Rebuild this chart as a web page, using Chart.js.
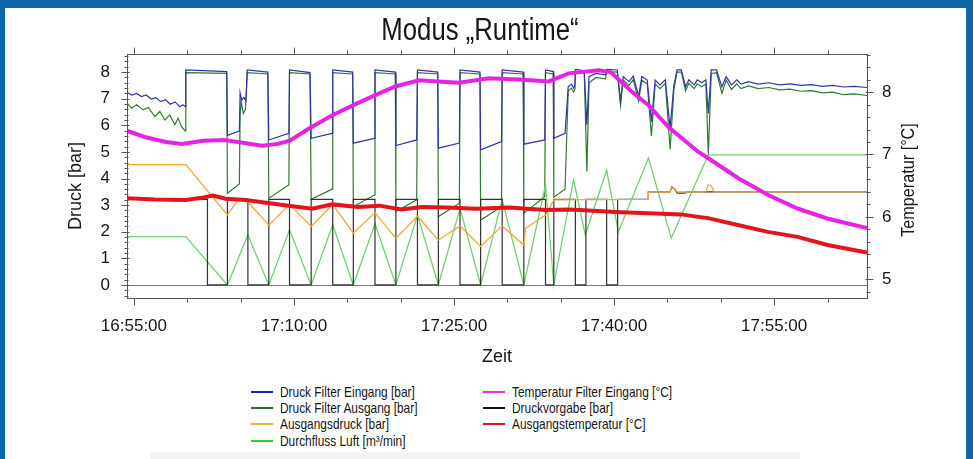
<!DOCTYPE html>
<html lang="de">
<head>
<meta charset="utf-8">
<title>Modus „Runtime“</title>
<script src="https://cdn.jsdelivr.net/npm/chart.js@4.4.1/dist/chart.umd.min.js"></script>
<style>
  html, body { margin: 0; padding: 0; }
  body {
    width: 973px; height: 459px; position: relative; overflow: hidden;
    background: #0f67a9;
    font-family: 'Liberation Sans', Arial, sans-serif;
    color: #161616;
  }
  #panel { position: absolute; left: 5px; top: 8px; width: 961px; height: 451px; background: #fff; }
  #strip { position: absolute; left: 150px; top: 452px; width: 650px; height: 7px; background: #f3f3f3; }
  #chart { position: absolute; left: 0; top: 0; }
  #title {
    position: absolute; left: 0; top: 14px; width: 960px; text-align: center;
    font-size: 31px; line-height: 32px; transform: scaleX(0.83); transform-origin: 480px 0;
  }
  .leg { position: absolute; height: 16px; white-space: nowrap; }
  .leg i { position: absolute; left: 0; top: 7px; width: 22px; height: 2px; }
  .leg span {
    position: absolute; left: 29px; top: 0; font-size: 14.5px; line-height: 16px;
    transform: scaleX(0.82); transform-origin: 0 0;
  }
</style>
</head>
<body>
<div id="panel"></div>
<div id="strip"></div>
<canvas id="chart" width="973" height="380"></canvas>
<div id="title">Modus „Runtime“</div>

<div class="leg" style="left:251px; top:384px;"><i style="background:#2323b4"></i><span>Druck Filter Eingang [bar]</span></div>
<div class="leg" style="left:251px; top:400px;"><i style="background:#2e6e2e"></i><span>Druck Filter Ausgang [bar]</span></div>
<div class="leg" style="left:251px; top:416px;"><i style="background:#f2ac3c"></i><span>Ausgangsdruck [bar]</span></div>
<div class="leg" style="left:251px; top:433px;"><i style="background:#3dcc3d"></i><span>Durchfluss Luft [m³/min]</span></div>
<div class="leg" style="left:483px; top:384px;"><i style="background:#e629e6"></i><span>Temperatur Filter Eingang [°C]</span></div>
<div class="leg" style="left:483px; top:400px;"><i style="background:#111"></i><span>Druckvorgabe [bar]</span></div>
<div class="leg" style="left:483px; top:416px;"><i style="background:#e0141e"></i><span>Ausgangstemperatur [°C]</span></div>

<script>
// time axis: minutes after 16:55:00
const timeMin = -0.65;
const timeMax = 68.7;

// Druck Filter Eingang [bar]  -> [minute, bar]
const druckEingang = [
  [-0.65,7.24],[-0.2,7.14],[0.25,7.2],[0.7,7.08],[1.15,7.14],[1.6,6.99],[2.05,7.04],[2.5,6.89],
  [2.95,6.96],[3.4,6.79],[3.85,6.88],[4.3,6.7],[4.6,6.77],[4.82,6.7],
  [4.86,8.08],[8.7,8.02],
  [8.76,5.62],[9.88,5.78],[9.95,7.22],[10.1,6.95],[10.3,7.05],[10.5,6.92],[10.62,8.08],[12.55,8.0],
  [12.64,5.45],[14.52,5.7],[14.58,8.08],[16.5,7.98],
  [16.61,5.51],[18.57,5.7],[18.63,8.08],[20.5,8.0],
  [20.56,5.33],[22.53,5.51],[22.59,8.08],[24.5,8.0],
  [24.55,5.24],[26.5,5.45],[26.57,8.08],[28.47,8.0],
  [28.53,5.14],[30.5,5.33],[30.56,8.08],[32.43,8.0],
  [32.49,5.08],[34.45,5.39],[34.51,8.08],[36.48,8.0],
  [36.54,5.29],[38.5,5.45],[38.57,8.08],[39.3,8.02],
  [39.35,5.51],[40.4,5.7],[40.7,7.45],[41.0,7.55],[41.2,7.4],[41.33,7.5],[41.37,8.1],[42.2,8.05],
  [42.45,6.02],[42.65,7.83],[43.3,7.95],[44.2,7.9],[44.3,8.1],[45.3,8.08],
  [45.6,6.9],[45.85,7.83],[46.4,7.64],[46.8,7.85],[47.3,7.1],[47.6,7.83],[48.1,7.7],[48.5,6.14],
  [48.85,7.7],[49.3,7.52],[49.8,7.71],[50.25,5.9],[50.6,7.5],[50.9,8.08],[51.3,8.08],[51.7,7.45],
  [52.0,7.71],[52.5,7.52],[52.8,7.71],[53.2,7.6],[53.6,7.71],[53.83,6.45],[54.1,8.08],[54.6,8.08],
  [55.1,7.45],[55.5,7.83],[56.0,7.52],[56.5,7.71],[56.9,7.55],[57.6,7.64],[58.5,7.55],[59.5,7.6],
  [60.5,7.52],[61.5,7.56],[62.5,7.5],[63.5,7.53],[64.5,7.46],[65.5,7.5],[66.5,7.44],[67.5,7.46],[68.7,7.42]
];

// Druck Filter Ausgang [bar]
const druckAusgang = [
  [-0.65,6.83],[-0.22,6.64],[0.25,6.77],[0.87,6.58],[1.34,6.67],[1.96,6.33],[2.43,6.52],[2.9,6.2],
  [3.36,6.39],[3.83,6.02],[4.14,6.27],[4.46,5.95],[4.8,5.79],
  [4.86,7.98],[8.7,7.95],
  [8.76,3.45],[9.88,3.8],[9.95,6.4],[10.05,6.9],[10.25,6.45],[10.45,6.6],[10.62,7.98],[12.55,7.93],
  [12.64,3.26],[14.52,3.76],[14.58,7.98],[16.5,7.93],
  [16.61,3.22],[18.57,3.6],[18.63,7.98],[20.5,7.93],
  [20.56,2.94],[22.53,3.38],[22.59,7.98],[24.5,7.93],
  [24.55,2.76],[26.5,3.2],[26.57,7.98],[28.47,7.93],
  [28.53,2.57],[30.5,3.07],[30.56,7.98],[32.43,7.93],
  [32.49,2.44],[34.45,2.94],[34.51,7.98],[36.48,7.93],
  [36.54,2.7],[38.5,3.32],[38.57,7.98],[39.3,7.93],
  [39.35,3.3],[40.4,3.6],[40.7,7.3],[41.0,7.4],[41.2,7.25],[41.33,7.35],[41.37,8.02],[42.2,7.98],
  [42.45,4.26],[42.65,7.6],[43.3,7.8],[44.2,7.75],[44.3,8.02],[45.3,8.0],
  [45.6,6.75],[45.85,7.7],[46.4,7.5],[46.8,7.72],[47.3,6.9],[47.6,7.7],[48.1,7.55],[48.5,5.6],
  [48.85,7.55],[49.3,7.38],[49.8,7.58],[50.25,5.1],[50.6,7.35],[50.9,8.0],[51.3,8.0],[51.7,7.3],
  [52.0,7.58],[52.5,7.38],[52.8,7.56],[53.2,7.45],[53.6,7.55],[53.83,4.89],[54.1,7.95],[54.6,7.98],
  [55.1,7.2],[55.5,7.7],[56.0,7.35],[56.5,7.56],[56.9,7.38],[57.6,7.48],[58.5,7.38],[59.5,7.42],
  [60.5,7.33],[61.5,7.36],[62.5,7.28],[63.5,7.3],[64.5,7.22],[65.5,7.25],[66.5,7.15],[67.5,7.18],[68.7,7.12]
];

// Ausgangsdruck [bar]
const ausgangsdruck = [
  [-0.65,4.52],[4.86,4.52],[8.76,2.63],[9.8,3.22],[10.68,3.12],[12.64,2.25],[14.58,3.02],[16.61,2.2],
  [18.63,3.02],[20.56,1.95],[22.59,2.72],[24.55,1.75],[26.57,2.58],[28.53,1.68],[30.56,2.22],
  [32.49,1.45],[34.51,2.22],[36.54,1.5],[36.7,2.13],[38.57,2.63],[39.35,3.2],[48.2,3.22],[48.22,3.5],
  [50.25,3.5],[50.4,3.65],[50.7,3.62],[50.9,3.5],[53.6,3.5],[53.8,3.76],[54.1,3.72],[54.4,3.5],[68.7,3.5]
];

// Durchfluss Luft [m³/min]
const durchfluss = [
  [-0.65,1.82],[4.86,1.82],[8.76,0],[10.68,1.88],[12.64,0],[14.58,2.07],[16.61,0],[18.63,2.26],
  [20.56,0],[22.59,2.3],[24.55,0],[26.57,2.63],[28.53,0],[30.56,2.88],[32.49,0],[34.51,3.2],
  [36.54,0],[38.57,3.76],[39.35,0],[41.2,3.95],[42.3,1.88],[44.3,4.32],[45.4,2.0],[48.22,4.77],
  [50.35,1.76],[53.83,4.89],[68.7,4.89]
];

// Druckvorgabe [bar]
const druckvorgabe = [
  [-0.65,3.22],[6.89,3.22],[6.89,0],[8.76,0],[8.76,3.22],[10.68,3.22],[10.68,0],[12.64,0],
  [12.64,3.22],[14.58,3.22],[14.58,0],[16.61,0],[16.61,3.22],[18.63,3.22],[18.63,0],[20.56,0],
  [20.56,3.22],[22.59,3.22],[22.59,0],[24.55,0],[24.55,3.22],[26.57,3.22],[26.57,0],[28.53,0],
  [28.53,3.22],[30.56,3.22],[30.56,0],[32.49,0],[32.49,3.22],[34.51,3.22],[34.51,0],[36.54,0],
  [36.54,3.22],[38.57,3.22],[38.57,0],[39.35,0],[39.35,3.22],[41.37,3.22],[41.37,0],[42.36,0],
  [42.36,3.22],[44.3,3.22],[44.3,0],[45.33,0],[45.33,3.22],[48.2,3.22],[48.2,3.5],[50.25,3.5],
  [50.4,3.68],[50.7,3.6],[50.9,3.45],[51.6,3.45],[51.8,3.5],[68.7,3.5]
];

// Temperatur Filter Eingang [°C]
const tempEingang = [
  [-0.65,7.38],[1.0,7.28],[3.0,7.2],[4.5,7.17],[6.5,7.22],[8.5,7.23],[10.5,7.18],[12.0,7.14],
  [13.5,7.17],[14.6,7.22],[16.45,7.42],[18.6,7.63],[20.56,7.79],[22.62,7.95],[24.49,8.09],
  [26.73,8.19],[28.5,8.17],[30.47,8.15],[33.27,8.22],[36.07,8.2],[38.88,8.17],[40.75,8.3],
  [43.55,8.35],[44.67,8.32],[46.64,8.01],[48.22,7.79],[50.09,7.44],[52.9,7.04],[53.83,6.94],
  [56.64,6.62],[59.44,6.35],[62.24,6.13],[65.05,5.97],[68.7,5.82]
];

// Ausgangstemperatur [°C]
const tempAusgang = [
  [-0.65,6.3],[2.0,6.28],[4.86,6.27],[6.5,6.31],[7.4,6.34],[8.6,6.29],[10.5,6.27],[13.6,6.2],
  [16.7,6.13],[18.6,6.2],[21.0,6.16],[23.0,6.18],[25.1,6.12],[27.0,6.16],[29.3,6.15],[32.1,6.13],
  [35.2,6.15],[38.6,6.11],[40.9,6.12],[45.1,6.08],[48.2,6.06],[51.3,6.04],[52.9,6.0],[53.8,5.98],
  [56.6,5.87],[59.4,5.76],[62.2,5.68],[65.0,5.55],[68.7,5.43]
];

const FONT = "'Liberation Sans', Arial, sans-serif";

const toXY = arr => arr.map(([x, y]) => ({ x, y }));

function line(label, data, color, width, axis, order) {
  return {
    label, data: toXY(data), yAxisID: axis, order,
    borderColor: color, borderWidth: width, pointRadius: 0, tension: 0, fill: false
  };
}

function timeLabel(v) {
  if (v < 0 || v % 15 !== 0) return '';
  const t = 16 * 60 + 55 + v;
  const hh = Math.floor(t / 60), mm = t % 60;
  return hh + ':' + String(mm).padStart(2, '0') + ':00';
}

// frame, ticks and axis titles
const axisDecor = {
  id: 'axisDecor',
  beforeDatasetsDraw(chart) {
    const { ctx, chartArea: a, scales: { y } } = chart;
    const p = Math.round(y.getPixelForValue(0)) + 0.5;
    ctx.save();
    ctx.strokeStyle = '#7a7a7a';
    ctx.lineWidth = 1;
    ctx.beginPath();
    ctx.moveTo(a.left, p);
    ctx.lineTo(a.right, p);
    ctx.stroke();
    ctx.restore();
  },
  afterDraw(chart) {
    const { ctx, chartArea: a, scales: { x, y, yT } } = chart;
    const L = Math.round(a.left) + 0.5, R = Math.round(a.right) + 0.5;
    const T = Math.round(a.top) + 0.5, B = Math.round(a.bottom) + 0.5;
    ctx.save();
    ctx.strokeStyle = '#555';
    ctx.lineWidth = 1;
    ctx.strokeRect(L, T, R - L, B - T);
    ctx.beginPath();
    for (let i = -2; i <= 43; i++) {
      const v = i / 5;
      if (v < y.min || v > y.max) continue;
      const p = Math.round(y.getPixelForValue(v)) + 0.5;
      const major = i % 5 === 0;
      ctx.moveTo(L - (major ? 6 : 3), p);
      ctx.lineTo(L + (major ? 2 : 1), p);
    }
    for (let i = 24; i <= 43; i++) {
      const v = i / 5;
      if (v < yT.min || v > yT.max) continue;
      const p = Math.round(yT.getPixelForValue(v)) + 0.5;
      const major = i % 5 === 0;
      ctx.moveTo(R + (major ? 6 : 3), p);
      ctx.lineTo(R - (major ? 2 : 1), p);
    }
    for (let m = 0; m <= 65; m += 5) {
      const p = Math.round(x.getPixelForValue(m)) + 0.5;
      const major = m % 15 === 0;
      ctx.moveTo(p, B + (major ? 7 : 4));
      ctx.lineTo(p, B);
      ctx.moveTo(p, T - (major ? 7 : 4));
      ctx.lineTo(p, T);
    }
    ctx.stroke();

    ctx.fillStyle = '#161616';
    ctx.textAlign = 'center';
    ctx.textBaseline = 'middle';
    ctx.font = '18px ' + FONT;
    ctx.save();
    ctx.translate(76, 186);
    ctx.rotate(-Math.PI / 2);
    ctx.fillText('Druck [bar]', 0, 0);
    ctx.restore();
    ctx.save();
    ctx.translate(909, 180);
    ctx.rotate(-Math.PI / 2);
    ctx.scale(0.9, 1);
    ctx.fillText('Temperatur [°C]', 0, 0);
    ctx.restore();
    ctx.fillText('Zeit', (a.left + a.right) / 2, 357);
    ctx.restore();
  }
};

const chart = new Chart(document.getElementById('chart'), {
  type: 'line',
  data: {
    datasets: [
      line('Druck Filter Eingang [bar]', druckEingang, '#3434a8', 1.2, 'y', 5),
      line('Druck Filter Ausgang [bar]', druckAusgang, '#2f7a2f', 1.2, 'y', 6),
      line('Ausgangsdruck [bar]', ausgangsdruck, '#f0a63a', 1.3, 'y', 2),
      line('Durchfluss Luft [m³/min]', durchfluss, '#72d072', 1.3, 'y', 4),
      line('Temperatur Filter Eingang [°C]', tempEingang, '#e423e4', 4, 'yT', 1),
      line('Druckvorgabe [bar]', druckvorgabe, '#333', 1.2, 'y', 3),
      line('Ausgangstemperatur [°C]', tempAusgang, '#e3141c', 4, 'yT', 0)
    ]
  },
  options: {
    responsive: false,
    animation: false,
    events: [],
    layout: { padding: { top: 54, left: 0, right: 0, bottom: 0 } },
    plugins: { legend: { display: false }, tooltip: { enabled: false }, title: { display: false } },
    scales: {
      x: {
        type: 'linear', position: 'bottom', min: timeMin, max: timeMax,
        grid: { display: false, drawTicks: false }, border: { display: false },
        ticks: { stepSize: 5, includeBounds: false, autoSkip: false, maxRotation: 0, padding: 18,
                 color: '#161616', font: { family: FONT, size: 17 }, callback: timeLabel },
        afterFit(s) { s.height = 82; }
      },
      y: {
        type: 'linear', position: 'left', min: -0.49, max: 8.68,
        grid: { display: false, drawTicks: false }, border: { display: false },
        ticks: { stepSize: 1, includeBounds: false, padding: 17, color: '#161616',
                 font: { family: FONT, size: 17 },
                 callback: v => (Number.isInteger(v) && v >= 0 && v <= 8) ? v : '' },
        afterFit(s) { s.width = 127; }
      },
      yT: {
        type: 'linear', position: 'right', min: 4.70, max: 8.61,
        grid: { display: false, drawTicks: false }, border: { display: false },
        ticks: { stepSize: 1, includeBounds: false, padding: 15, color: '#161616',
                 font: { family: FONT, size: 17 },
                 callback: v => (Number.isInteger(v) && v >= 5 && v <= 8) ? v : '' },
        afterFit(s) { s.width = 106; }
      }
    }
  },
  plugins: [axisDecor]
});
</script>
</body>
</html>
